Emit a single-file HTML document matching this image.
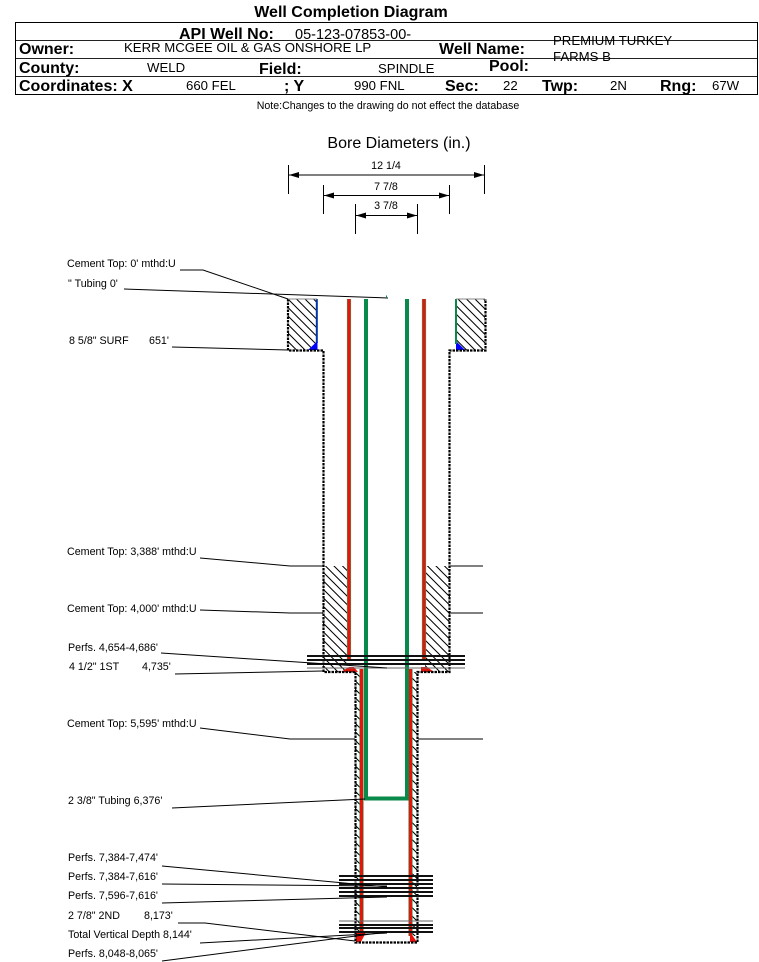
<!DOCTYPE html>
<html><head><meta charset="utf-8"><style>
html,body{margin:0;padding:0;background:#fff}
svg{display:block}
text{font-family:"Liberation Sans",sans-serif;fill:#000}
.b{font-weight:bold;font-size:16px}
.v{font-size:13.2px}
.l{font-size:10.7px}
</style></head><body>
<svg width="759" height="962" viewBox="0 0 759 962" xmlns="http://www.w3.org/2000/svg">
<defs>
<pattern id="h" width="8.5" height="8.5" patternUnits="userSpaceOnUse" patternTransform="translate(288 299)">
<path d="M-2 -2L10.5 10.5M-2 6.5L2 10.5M6.5 -2L10.5 2" stroke="#000" stroke-width="1"/>
</pattern>
<marker id="a" viewBox="0 0 10 6" refX="10" refY="3" markerWidth="10" markerHeight="6" orient="auto-start-reverse" markerUnits="userSpaceOnUse"><path d="M0 0L10 3L0 6z" fill="#000"/></marker>
</defs>

<text x="351" y="17" text-anchor="middle" font-weight="bold" font-size="16">Well Completion Diagram</text>
<rect x="15.5" y="22.5" width="742" height="72" fill="none" stroke="#000" stroke-width="1"/>
<path d="M16 40.5H757M16 58.5H757M16 76.5H757" stroke="#222" stroke-width="1" fill="none"/>
<text class="b" x="179" y="39">API Well No:</text><text x="295" y="39" font-size="14.5">05-123-07853-00-</text>
<text class="b" x="19" y="54">Owner:</text><text class="v" x="124" y="52">KERR MCGEE OIL &amp; GAS ONSHORE LP</text>
<text class="b" x="439" y="54">Well Name:</text>
<text class="v" x="553" y="45">PREMIUM TURKEY</text><text class="v" x="553" y="61">FARMS B</text>
<text class="b" x="19" y="73">County:</text><text class="v" x="147" y="72">WELD</text>
<text class="b" x="259" y="74">Field:</text><text class="v" x="378" y="73">SPINDLE</text>
<text class="b" x="489" y="71">Pool:</text>
<text class="b" x="19" y="91">Coordinates: X</text><text class="v" x="186" y="90">660 FEL</text>
<text class="b" x="284" y="91">; Y</text><text class="v" x="354" y="90">990 FNL</text>
<text class="b" x="445" y="91">Sec:</text><text class="v" x="503" y="90">22</text>
<text class="b" x="542" y="91">Twp:</text><text class="v" x="610" y="90">2N</text>
<text class="b" x="660" y="91">Rng:</text><text class="v" x="712" y="90">67W</text>
<text x="388" y="109" text-anchor="middle" font-size="10.6">Note:Changes to the drawing do not effect the database</text>

<text x="399" y="148" text-anchor="middle" font-size="16">Bore Diameters (in.)</text>
<text class="l" x="386" y="169" text-anchor="middle">12 1/4</text>
<text class="l" x="386" y="190" text-anchor="middle">7 7/8</text>
<text class="l" x="386" y="209" text-anchor="middle">3 7/8</text>
<g stroke="#000" stroke-width="1" fill="none">
<path d="M288.5 165V194M484.5 165V194M323.5 185V214M449.5 185V214M355.5 204V234M417.5 204V234"/>
<path d="M289 175H484" marker-start="url(#a)" marker-end="url(#a)"/>
<path d="M324 195.5H449" marker-start="url(#a)" marker-end="url(#a)"/>
<path d="M356 215.5H417" marker-start="url(#a)" marker-end="url(#a)"/>
</g>

<!-- hatching -->
<g fill="url(#h)">
<rect x="288" y="299" width="29" height="51"/><rect x="456" y="299" width="29" height="51"/>
<rect x="323" y="566" width="25" height="106"/><rect x="425" y="566" width="25" height="106"/>
<rect x="355" y="672" width="6" height="264"/><rect x="411" y="672" width="6" height="264"/>
</g>
<rect x="315.8" y="299" width="2" height="44" fill="#0033aa"/>
<path d="M317.5 341V350H308z" fill="#00f"/>
<path d="M456 341V350H465z" fill="#00f"/>
<rect x="455" y="299" width="2" height="45" fill="#0a8a4a"/>

<!-- tubing -->
<g fill="none" stroke-width="4.2">
<g stroke="#3d9a5e">
<path d="M349 299V661M424 299V661M361.5 669V936M410.5 669V936"/>
</g>
<path d="M366 299V798.5H407V299" stroke="#0a8a4a" stroke-width="4"/>
<g stroke="#e8140a" stroke-width="3">
<path d="M349 299V661M424 299V661M361.5 669V936M410.5 669V936"/>
</g>
</g>
<path d="M341 672L349 667H354L358 672zM421 667H427L434 672H421z" fill="#e8140a"/>
<path d="M356 942V933L366 932 361 942zM410 932L417 942H410z" fill="#e8140a"/>

<!-- casings: dashed double line -->
<g fill="none" stroke="#000" stroke-width="2.2" stroke-dasharray="2.5 1">
<path d="M288 299V350.5H323.5V672H355.5V942.5H417.5V672H449.5V350.5H485.5V299"/>
</g>
<path d="M288 299H317M456 299H485" stroke="#888" fill="none"/>

<!-- perforations -->
<g stroke="#111" stroke-width="2" fill="none">
<path d="M307 656H465M307 660H465M307 664H465"/>
<path d="M339 876H433M339 880H433M339 884H433M339 888H433M339 892H433M339 896H433"/>
<path d="M339 925H433M339 928H433M339 932H433"/>
</g>
<path d="M307 668H465M339 921H433" stroke="#666" fill="none"/>

<!-- leaders -->
<g fill="none" stroke="#000" stroke-width="1">
<path d="M180 270H203L288 299"/>
<path d="M124 289L388 298"/>
<path d="M386.5 295.5V298" stroke="#0a8a4a"/>
<path d="M172 347L288 350"/>
<path d="M200 558L290 566H323M450 566H483"/>
<path d="M200 610L290 613H323M450 613H483"/>
<path d="M161 653L387 668"/>
<path d="M175 674L323 671"/>
<path d="M200 728L290 739H355M418 739H483"/>
<path d="M172 808L365 799"/>
<path d="M162 866L387 887"/>
<path d="M162 884L387 886" />
<path d="M162 903L387 897"/>
<path d="M178 923H205L355 941"/>
<path d="M200 943L387 933"/>
<path d="M162 961L387 932"/>
</g>

<g>
<text class="l" x="67" y="267">Cement Top: 0' mthd:U</text>
<text class="l" x="68" y="287">" Tubing 0'</text>
<text class="l" x="69" y="344">8 5/8" SURF</text><text class="l" x="149" y="344">651'</text>
<text class="l" x="67" y="555">Cement Top: 3,388' mthd:U</text>
<text class="l" x="67" y="612">Cement Top: 4,000' mthd:U</text>
<text class="l" x="68" y="651">Perfs. 4,654-4,686'</text>
<text class="l" x="69" y="670">4 1/2" 1ST</text><text class="l" x="142" y="670">4,735'</text>
<text class="l" x="67" y="727">Cement Top: 5,595' mthd:U</text>
<text class="l" x="68" y="804">2 3/8" Tubing 6,376'</text>
<text class="l" x="68" y="861">Perfs. 7,384-7,474'</text>
<text class="l" x="68" y="880">Perfs. 7,384-7,616'</text>
<text class="l" x="68" y="899">Perfs. 7,596-7,616'</text>
<text class="l" x="68" y="919">2 7/8" 2ND</text><text class="l" x="144" y="919">8,173'</text>
<text class="l" x="68" y="938">Total Vertical Depth 8,144'</text>
<text class="l" x="68" y="957">Perfs. 8,048-8,065'</text>
</g>
</svg>
</body></html>
